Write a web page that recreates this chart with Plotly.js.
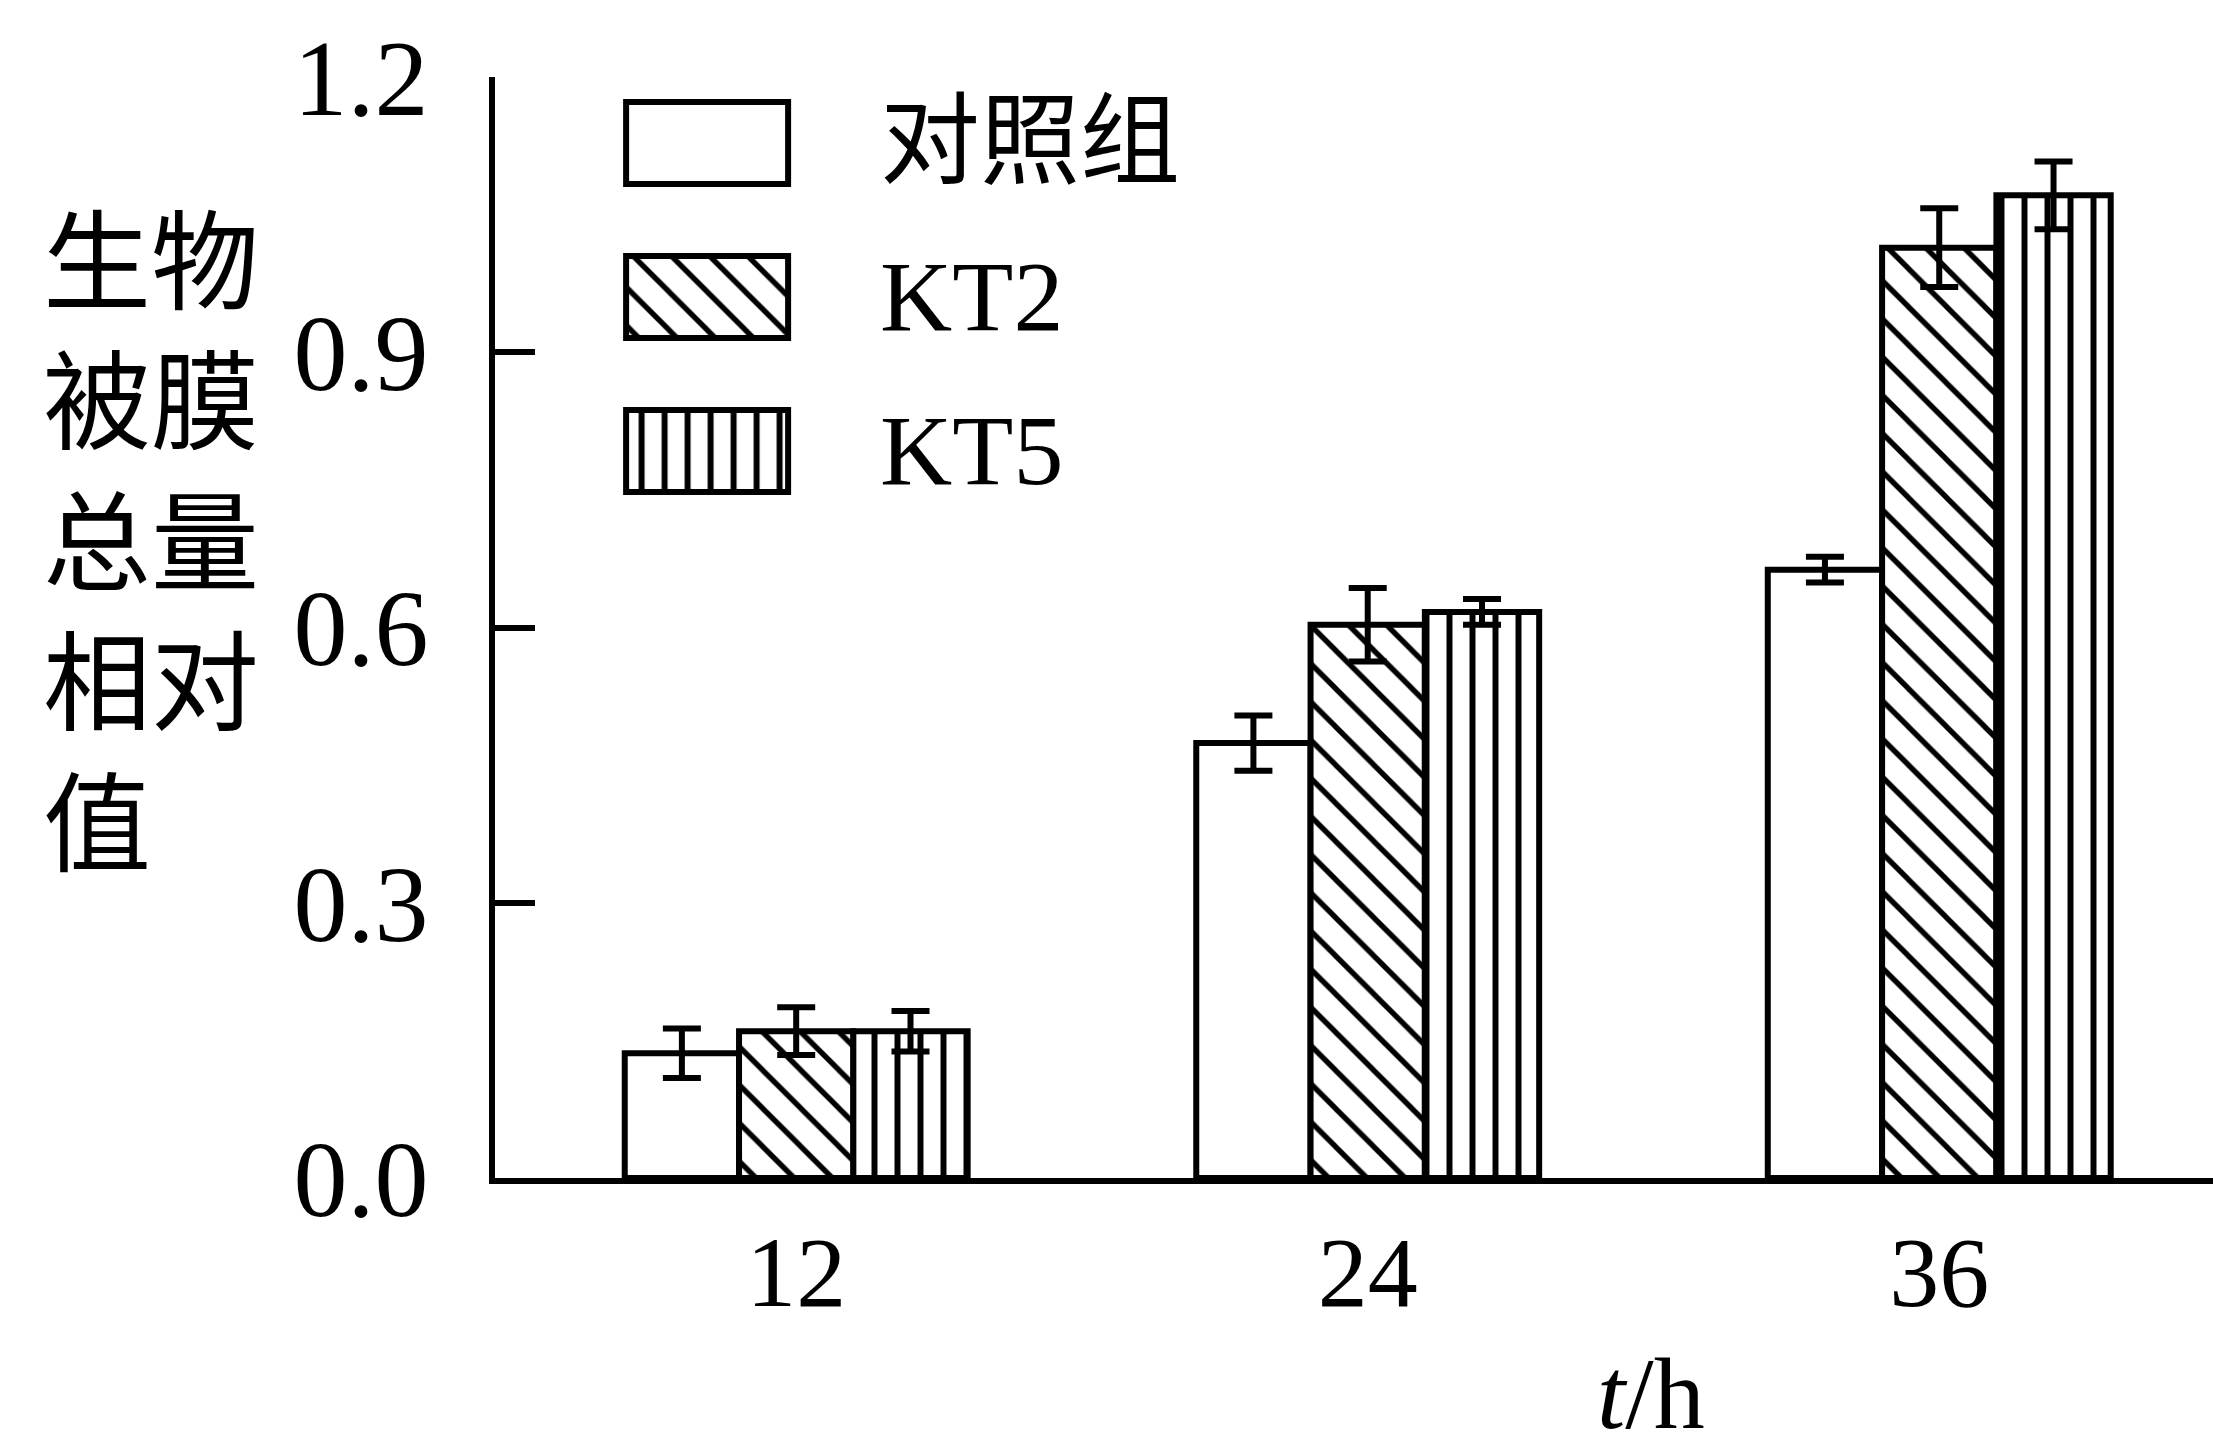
<!DOCTYPE html>
<html>
<head>
<meta charset="utf-8">
<script src="https://cdn.plot.ly/plotly-3.0.1.min.js"></script>
<style>
  html, body { margin: 0; padding: 0; background: #ffffff; }
  #chart { width: 2213px; height: 1442px; }
</style>
</head>
<body>
<div id="chart"></div>
<script>
// ---- data ----
const categories = ['12', '24', '36'];
const seriesNames = ['对照组', 'KT2', 'KT5'];
const controlVals = [0.136, 0.474, 0.663];
const controlErr  = [0.027, 0.030, 0.014];
const kt2Vals     = [0.160, 0.603, 1.014];
const kt2Err      = [0.026, 0.040, 0.043];
const kt5Vals     = [0.160, 0.617, 1.071];
const kt5Err      = [0.022, 0.014, 0.037];
const yTickVals   = [0, 0.3, 0.6, 0.9, 1.2];
const yTickText   = ['0.0', '0.3', '0.6', '0.9', '1.2'];
const yTitleText  = '生物<br>被膜<br>总量<br>相对<br>值';
const xTitleText  = '<i>t</i>/h';

const serif = 'Liberation Serif, "Noto Sans CJK SC", serif';
const cjk = '"Noto Sans CJK SC", sans-serif';

function makeBar(name, vals, errs, pattern, group) {
  return {
    type: 'bar',
    name: name,
    x: categories,
    y: vals,
    legendgroup: group,
    marker: {
      color: '#ffffff',
      line: { color: '#000000', width: 6 },
      pattern: pattern
    },
    error_y: {
      type: 'data', array: errs, visible: true,
      color: '#000000', thickness: 6, width: 19
    }
  };
}

const data = [
  makeBar(seriesNames[0], controlVals, controlErr, { shape: '' }, 'g1'),
  makeBar(seriesNames[1], kt2Vals, kt2Err,
    { shape: '\\', size: 27, solidity: 0.2, fgcolor: '#000000', bgcolor: '#ffffff', fillmode: 'replace' }, 'g2'),
  makeBar(seriesNames[2], kt5Vals, kt5Err,
    { shape: '|', size: 23, solidity: 0.26, fgcolor: '#000000', bgcolor: '#ffffff', fillmode: 'replace' }, 'g3')
];

const layout = {
  width: 2213,
  height: 1442,
  paper_bgcolor: '#ffffff',
  plot_bgcolor: '#ffffff',
  margin: { l: 495, r: 0, t: 77, b: 264, pad: 0 },
  barmode: 'group',
  bargap: 0.4,
  bargroupgap: 0,
  showlegend: true,
  legend: {
    x: 0.067, xanchor: 'left',
    y: 1.01, yanchor: 'top',
    bgcolor: 'rgba(0,0,0,0)',
    borderwidth: 0,
    font: { family: serif, size: 100, color: '#000000' },
    itemwidth: 260,
    tracegroupgap: 21,
    traceorder: 'grouped'
  },
  xaxis: {
    type: 'category',
    range: [-0.527, 2.479],
    showline: true, linecolor: '#000000', linewidth: 6,
    ticks: '', showgrid: false, zeroline: false,
    tickfont: { family: serif, size: 100, color: '#000000' },
    ticklabelstandoff: 2
  },
  yaxis: {
    range: [0, 1.2],
    tickvals: yTickVals,
    ticktext: yTickText,
    showline: true, linecolor: '#000000', linewidth: 6,
    ticks: 'inside', ticklen: 40, tickwidth: 6, tickcolor: '#000000',
    showgrid: false, zeroline: false,
    tickfont: { family: serif, size: 108, color: '#000000' },
    ticklabelstandoff: 39
  },
  annotations: [
    {
      text: yTitleText, xref: 'paper', yref: 'paper',
      x: -0.2, y: 0.584, xanchor: 'center', yanchor: 'middle',
      showarrow: false, align: 'left',
      font: { family: cjk, size: 108, color: '#000000' }
    },
    {
      text: xTitleText, xref: 'paper', yref: 'paper',
      x: 0.673, y: -0.196, xanchor: 'center', yanchor: 'middle',
      showarrow: false,
      font: { family: serif, size: 102, color: '#000000' }
    }
  ]
};

// Plotly draws fixed 12px legend swatches; enlarge them to the reference's big boxes
// and give them the same hatch tiles as the bars.
function enlargeLegend(gd) {
  const items = gd.querySelectorAll('g.legend g.traces');
  const barTraces = gd.querySelectorAll('.barlayer g.trace');
  items.forEach(function (item, i) {
    const txt = item.querySelector('text.legendtext');
    const bar = item.querySelector('g.legendpoints path');
    if (!txt || !bar) return;
    const tr = txt.getBoundingClientRect();
    const ctm = bar.getScreenCTM();
    if (!ctm) return;
    const boxW = 162, boxH = 82, gap = 92;
    const right = (tr.left - gap) - ctm.e;
    const left = right - boxW;
    const midY = (tr.top + tr.bottom) / 2 - ctm.f;
    const top = midY - boxH / 2, bottom = midY + boxH / 2;
    bar.setAttribute('d', 'M' + left + ',' + top + 'H' + right + 'V' + bottom + 'H' + left + 'Z');
    bar.style.strokeWidth = '6px';
    bar.style.stroke = '#000000';
    const tracePath = barTraces[i] ? barTraces[i].querySelector('path') : null;
    if (tracePath && tracePath.style.fill) bar.style.fill = tracePath.style.fill;
  });
}

Plotly.newPlot('chart', data, layout, { staticPlot: true, displayModeBar: false })
  .then(function (gd) {
    enlargeLegend(gd);
    gd.on('plotly_afterplot', function () { enlargeLegend(gd); });
    setTimeout(function () { enlargeLegend(gd); }, 300);
    setTimeout(function () { enlargeLegend(gd); }, 1000);
  });
</script>
</body>
</html>
